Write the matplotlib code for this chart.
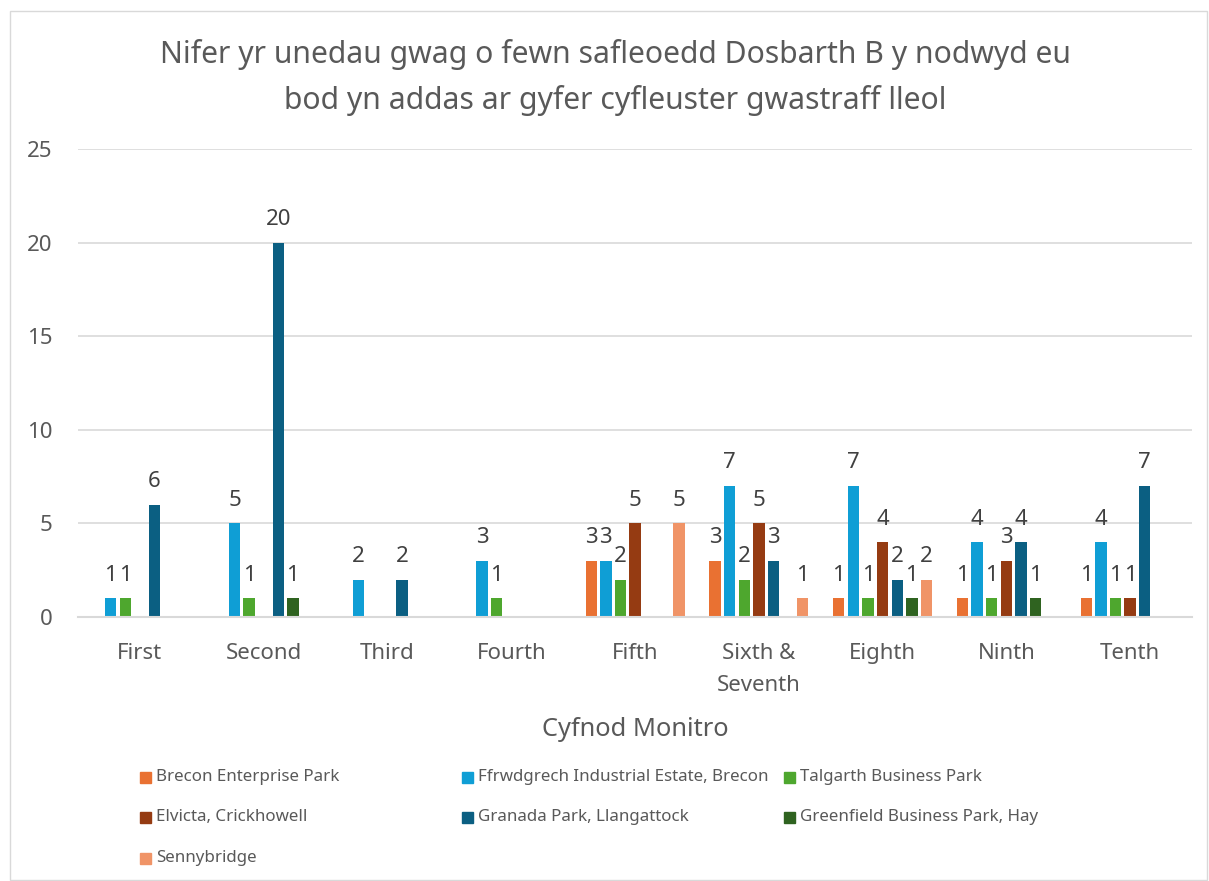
import numpy as np
import matplotlib
matplotlib.use('Agg')
import matplotlib.pyplot as plt
from matplotlib.patches import Rectangle

plt.rcParams['font.family'] = ['Noto Sans', 'DejaVu Sans']

# Data (None = blank cell, no bar / no label)
periods = ['First', 'Second', 'Third', 'Fourth', 'Fifth', 'Sixth &\nSeventh',
           'Eighth', 'Ninth', 'Tenth']
series_names = ['Brecon Enterprise Park', 'Ffrwdgrech Industrial Estate, Brecon',
                'Talgarth Business Park', 'Elvicta, Crickhowell',
                'Granada Park, Llangattock', 'Greenfield Business Park, Hay',
                'Sennybridge']
brecon = [None, None, None, None, 3, 3, 1, 1, 1]
ffrwdgrech = [1, 5, 2, 3, 3, 7, 7, 4, 4]
talgarth = [1, 1, None, 1, 2, 2, 1, 1, 1]
elvicta = [None, None, None, None, 5, 5, 4, 3, 1]
granada = [6, 20, 2, None, None, 3, 2, 4, 7]
greenfield = [None, 1, None, None, None, None, 1, 1, None]
sennybridge = [None, None, None, None, 5, 1, 2, None, None]
series_values = [brecon, ffrwdgrech, talgarth, elvicta, granada, greenfield, sennybridge]
colors = ['#E97132', '#0F9ED5', '#4EA72E', '#953B12', '#0B5F82', '#2F6320', '#F09467']

fig = plt.figure(figsize=(12.09, 8.81), dpi=100)
ax = fig.add_axes([0.0645, 0.2997, 0.9215, 0.5313])

x = np.arange(len(periods))
step = 0.118
width = 0.092
for i, (vals, col) in enumerate(zip(series_values, colors)):
    heights = [np.nan if v is None else v for v in vals]
    bars = ax.bar(x + (i - 3) * step, heights, width, color=col, label=series_names[i])
    labels = ['' if v is None else str(v) for v in vals]
    ax.bar_label(bars, labels=labels, padding=9, fontsize=16, color='#404040')

ax.set_xlim(-0.5, len(periods) - 0.5)
ax.set_ylim(0, 25)
ax.set_yticks([0, 5, 10, 15, 20, 25])
ax.set_xticks(x)
ax.set_xticklabels(periods, fontsize=16, color='#595959', linespacing=1.69)
ax.tick_params(axis='y', labelsize=16, labelcolor='#595959', length=0, pad=18.5)
ax.tick_params(axis='x', length=0, pad=19)
ax.grid(axis='y', color='#D9D9D9', linewidth=1.2)
ax.set_axisbelow(True)
for s in ['top', 'right', 'left']:
    ax.spines[s].set_visible(False)
ax.spines['bottom'].set_color('#D9D9D9')
ax.spines['bottom'].set_linewidth(1.5)
ax.set_xlabel('Cyfnod Monitro', fontsize=18.3, color='#595959', labelpad=14.5)

fig.text(0.509, 0.912, 'Nifer yr unedau gwag o fewn safleoedd Dosbarth B y nodwyd eu\n'
         'bod yn addas ar gyfer cyfleuster gwastraff lleol',
         ha='center', va='center', fontsize=21.7, color='#595959', linespacing=1.6)

# legend laid out in rows of three, like the original
col_x = [140, 462, 784]
row_y = [777, 817, 858]
W, H = fig.bbox.width, fig.bbox.height
for i, name in enumerate(series_names):
    cx = col_x[i % 3]
    cy = row_y[i // 3]
    fig.patches.append(Rectangle((cx / W, (H - cy - 5.5) / H), 11 / W, 11 / H,
                                 transform=fig.transFigure, color=colors[i]))
    fig.text((cx + 16) / W, (H - cy) / H, name, fontsize=12.2, color='#595959',
             va='center', ha='left')

# chart border
fig.patches.append(Rectangle((0.008, 0.001), 0.99, 0.986, transform=fig.transFigure,
                             fill=False, edgecolor='#D9D9D9', linewidth=1))

fig.savefig('out.png', dpi=100)
